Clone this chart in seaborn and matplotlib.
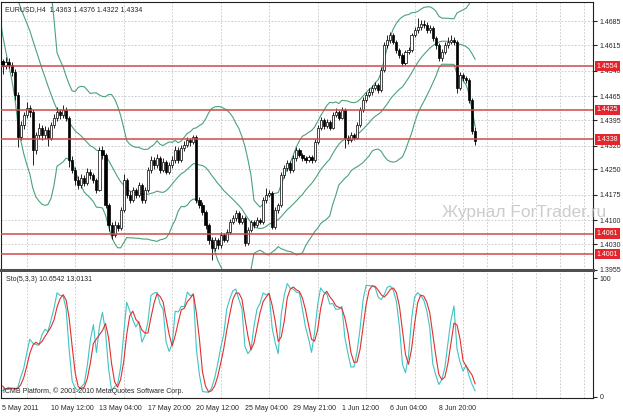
import numpy as np
import pandas as pd
import matplotlib
matplotlib.use("Agg")
import matplotlib.pyplot as plt
import seaborn as sns

# EURUSD H4, 5 May 2011 20:00 .. 10 Jun 2011 20:00, prices as 1 + v / 10000
closes = [4554,
          4566, 4557, 4536, 4469, 4345, 4380,
          4410, 4430, 4419, 4307, 4351, 4372,
          4351, 4366, 4342, 4380, 4401, 4419,
          4410, 4425, 4401, 4278, 4248, 4219,
          4204, 4225, 4210, 4242, 4233, 4219,
          4189, 4307, 4292, 4145, 4086, 4057,
          4086, 4078, 4130, 4219, 4175, 4160,
          4189, 4175, 4204, 4160, 4189, 4248,
          4278, 4263, 4283, 4248, 4272, 4242,
          4263, 4278, 4307, 4278, 4313, 4322,
          4336, 4330, 4345, 4160, 4145, 4125,
          4086, 4042, 4019, 4042, 4027, 4057,
          4042, 4066, 4095, 4107, 4122, 4095,
          4107, 4033, 4072, 4095, 4086, 4101,
          4095, 4160, 4175, 4181, 4081, 4130,
          4145, 4233, 4254, 4269, 4248, 4283,
          4307, 4292, 4283, 4278, 4286, 4278,
          4330, 4372, 4395, 4378, 4389, 4372,
          4410, 4419, 4401, 4425, 4342, 4336,
          4351, 4342, 4380, 4425, 4454, 4469,
          4478, 4489, 4498, 4483, 4542, 4616,
          4630, 4645, 4625, 4601, 4586, 4563,
          4595, 4601, 4645, 4660, 4669, 4678,
          4675, 4660, 4666, 4636, 4616, 4578,
          4595, 4616, 4625, 4630, 4625, 4489,
          4528, 4519, 4513, 4454, 4363, 4334]
highs = [4575,
         4580, 4578, 4565, 4545, 4478, 4392,
         4420, 4448, 4440, 4428, 4360, 4385,
         4380, 4378, 4375, 4390, 4412, 4432,
         4428, 4439, 4432, 4408, 4290, 4258,
         4230, 4236, 4232, 4255, 4250, 4240,
         4225, 4315, 4318, 4298, 4152, 4095,
         4098, 4095, 4140, 4235, 4225, 4185,
         4198, 4195, 4212, 4210, 4198, 4258,
         4290, 4285, 4295, 4290, 4282, 4278,
         4272, 4288, 4318, 4315, 4322, 4332,
         4345, 4342, 4352, 4350, 4170, 4155,
         4130, 4092, 4050, 4052, 4048, 4065,
         4062, 4075, 4105, 4115, 4130, 4128,
         4115, 4112, 4080, 4102, 4100, 4110,
         4108, 4168, 4195, 4190, 4186, 4138,
         4152, 4242, 4262, 4278, 4275, 4292,
         4315, 4312, 4298, 4290, 4292, 4292,
         4338, 4380, 4405, 4400, 4398, 4395,
         4418, 4430, 4425, 4432, 4430, 4350,
         4360, 4358, 4388, 4432, 4462, 4478,
         4488, 4498, 4508, 4505, 4550, 4625,
         4645, 4655, 4652, 4630, 4608, 4592,
         4602, 4610, 4652, 4670, 4695, 4690,
         4688, 4682, 4675, 4672, 4642, 4622,
         4605, 4625, 4640, 4645, 4638, 4630,
         4535, 4532, 4525, 4520, 4460, 4376]
lows = [4530,
        4545, 4548, 4525, 4455, 4316, 4335,
        4370, 4400, 4405, 4263, 4295, 4340,
        4335, 4340, 4320, 4335, 4372, 4392,
        4398, 4402, 4392, 4257, 4238, 4205,
        4192, 4195, 4200, 4205, 4222, 4210,
        4180, 4185, 4280, 4135, 4070, 4045,
        4050, 4068, 4072, 4125, 4165, 4150,
        4155, 4165, 4168, 4150, 4152, 4182,
        4240, 4252, 4255, 4240, 4242, 4235,
        4236, 4255, 4270, 4270, 4272, 4305,
        4315, 4320, 4325, 4150, 4135, 4115,
        4075, 4030, 3983, 4010, 4015, 4020,
        4035, 4035, 4060, 4088, 4098, 4088,
        4090, 4025, 4028, 4065, 4078, 4080,
        4088, 4090, 4152, 4168, 4075, 4075,
        4122, 4140, 4225, 4245, 4240, 4242,
        4275, 4285, 4275, 4270, 4272, 4270,
        4272, 4325, 4365, 4370, 4372, 4365,
        4368, 4405, 4395, 4398, 4313, 4325,
        4330, 4335, 4338, 4375, 4418, 4448,
        4462, 4470, 4482, 4475, 4478, 4535,
        4608, 4622, 4618, 4592, 4578, 4555,
        4558, 4588, 4595, 4638, 4652, 4660,
        4665, 4650, 4652, 4628, 4605, 4570,
        4570, 4588, 4608, 4618, 4615, 4475,
        4482, 4510, 4505, 4445, 4355, 4322]

# bars before the visible window (2 May 12:00 .. 5 May 16:00), used by the indicators
pre_closes = [4838, 4832, 4845, 4850, 4842, 4835, 4858, 4870, 4862, 4868,
              4880, 4895, 4925, 4905, 4870, 4875, 4868, 4880, 4835, 4570]
pre_highs = [4850, 4845, 4852, 4860, 4855, 4845, 4865, 4880, 4875, 4875,
             4890, 4905, 4940, 4932, 4910, 4885, 4880, 4888, 4885, 4840]
pre_lows = [4825, 4822, 4830, 4840, 4835, 4825, 4832, 4855, 4855, 4858,
            4865, 4878, 4892, 4898, 4862, 4865, 4860, 4865, 4828, 4560]

levels = [1.4554, 1.4425, 1.4338, 1.4061, 1.4001]
price_ticks = [1.4685, 1.4615, 1.4540, 1.4465, 1.4395, 1.4320,
               1.4250, 1.4175, 1.4100, 1.4030, 1.3955]
time_labels = ["5 May 2011", "10 May 12:00", "13 May 04:00", "17 May 20:00",
               "20 May 12:00", "25 May 04:00", "29 May 21:00", "1 Jun 12:00",
               "6 Jun 04:00", "8 Jun 20:00"]

# ---- table with indicators ----
n_pre = len(pre_closes)
df = pd.DataFrame({
    "bar": np.arange(-n_pre, len(closes)),
    "close": 1 + np.array(pre_closes + closes) / 1e4,
    "high": 1 + np.array(pre_highs + highs) / 1e4,
    "low": 1 + np.array(pre_lows + lows) / 1e4,
})
df["open"] = df["close"].shift(1)

# Bollinger bands (20, 2)
mid = df["close"].rolling(20).mean()
sd = df["close"].rolling(20).std(ddof=0)
df["bb_mid"] = mid
df["bb_up"] = mid + 2 * sd
df["bb_lo"] = mid - 2 * sd

# Stochastic (5, 3, 3)
ll = df["low"].rolling(5).min()
hh = df["high"].rolling(5).max()
df["sto_main"] = 100 * (df["close"] - ll).rolling(3).sum() / (hh - ll).rolling(3).sum()
df["sto_sig"] = df["sto_main"].rolling(3).mean()

vis = df[df["bar"] >= 0]

# ---- figure ----
sns.set_style("white")
plt.rcParams["font.family"] = ["Liberation Sans", "DejaVu Sans"]

W, H = 623, 416
fig = plt.figure(figsize=(W / 100, H / 100), dpi=100)
ax = fig.add_axes([1 / W, 1 - 270 / H, 592 / W, 268 / H])
ax2 = fig.add_axes([1 / W, 1 - 398 / H, 592 / W, 126 / H], sharex=ax)

grid_kw = dict(color="#c4c4c4", lw=0.6, ls=(0, (2, 2)))
band_col = "#4aa27a"

# candles
up = vis["close"] >= vis["open"]
ax.vlines(vis["bar"], vis["low"], vis["high"], color="black", lw=0.6, zorder=3)
ax.bar(vis["bar"][up], (vis["close"] - vis["open"])[up], bottom=vis["open"][up],
       width=0.7, color="white", edgecolor="black", lw=0.5, zorder=4)
ax.bar(vis["bar"][~up], (vis["open"] - vis["close"])[~up], bottom=vis["close"][~up],
       width=0.7, color="black", edgecolor="black", lw=0.5, zorder=4)

for col in ["bb_up", "bb_mid", "bb_lo"]:
    sns.lineplot(data=df, x="bar", y=col, ax=ax, color=band_col, lw=0.8, zorder=2)

for lv in levels:
    ax.axhline(lv, color="#cf4a4a", lw=1.1, zorder=5)
    ax.text(1.006, lv, f"{lv:.4f}", transform=ax.get_yaxis_transform(),
            color="white", fontsize=5, va="center", ha="left", zorder=10, clip_on=False,
            bbox=dict(facecolor="#e3262b", edgecolor="none", pad=1.2))

x_lo, x_hi = (1 - 2.5) / 3.03, (593 - 2.5) / 3.03
ax.set_xlim(x_lo, x_hi)
ax.set_ylim(1.4554 - (270 - 66) / 3400, 1.4554 + (66 - 2) / 3400)
ax.yaxis.tick_right()
ax.set_yticks(price_ticks, [f"{t:.4f}" for t in price_ticks])
ax.set_xticks(np.arange(0, 200, 8), minor=True)
ax.grid(axis="y", which="major", **grid_kw)
ax.grid(axis="x", which="minor", **grid_kw)
ax.tick_params(axis="y", labelsize=5, length=3, pad=2, right=True, direction="out")
ax.tick_params(axis="x", which="both", length=0, labelbottom=False)
ax.set_xlabel("")
ax.set_ylabel("")
for s in ax.spines.values():
    s.set_color("#202020")
    s.set_linewidth(0.8)
ax.spines["bottom"].set_linewidth(2.2)
ax.spines["bottom"].set_color("#505050")

ax.text(0.006, 0.985, "EURUSD,H4  1.4363 1.4376 1.4322 1.4334", transform=ax.transAxes,
        fontsize=5, va="top", ha="left")

# stochastic panel
sns.lineplot(data=vis, x="bar", y="sto_main", ax=ax2, color="#3fc4c4", lw=0.8)
sns.lineplot(data=vis, x="bar", y="sto_sig", ax=ax2, color="#e0302c", lw=0.8)
ax2.set_ylim(-1 / 1.18, 100 + 6 / 1.18)
ax2.yaxis.tick_right()
ax2.set_yticks([0, 100], ["0", "100"])
ax2.set_xticks(np.arange(0, 16 * len(time_labels), 16), time_labels)
for lbl in ax2.get_xticklabels():
    lbl.set_horizontalalignment("left")
ax2.grid(axis="x", which="minor", **grid_kw)
ax2.tick_params(axis="y", labelsize=5, length=3, pad=2, direction="out")
ax2.tick_params(axis="x", which="major", labelsize=5, length=3, pad=2, direction="out")
ax2.tick_params(axis="x", which="minor", length=0)
ax2.set_xlabel("")
ax2.set_ylabel("")
for s in ax2.spines.values():
    s.set_color("#202020")
    s.set_linewidth(0.8)
ax2.spines["top"].set_visible(False)

ax2.text(0.009, 0.97, "Sto(5,3,3) 10.6542 13.0131", transform=ax2.transAxes,
         fontsize=5, va="top", ha="left")
ax2.text(0.004, 0.02, "ICMB Platform, \u00a9 2001-2010 MetaQuotes Software Corp.",
         transform=ax2.transAxes, fontsize=5, va="bottom", ha="left")

fig.text(442 / W, 1 - 213 / H, "Журнал ForTrader.ru", color="#cccccc",
         fontsize=12.5, va="center", ha="left")

fig.savefig("out.png", dpi=100)
